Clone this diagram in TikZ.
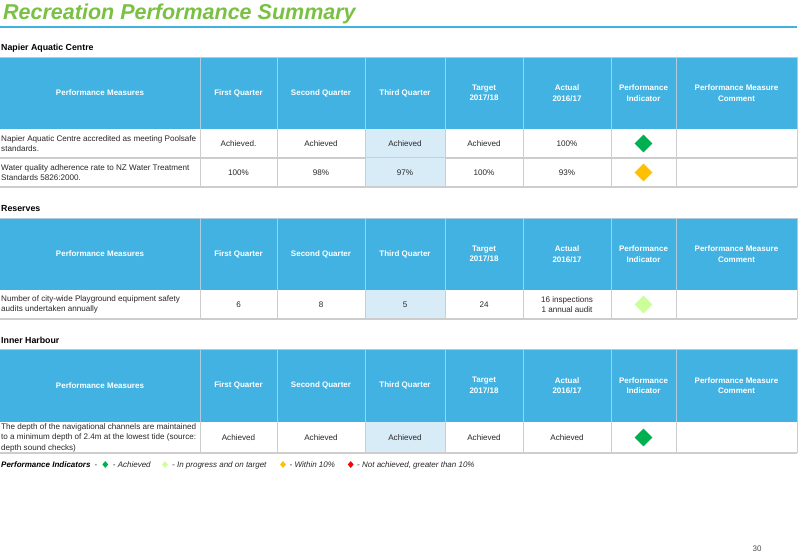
\documentclass[tikz,border=0pt]{standalone}
\usepackage{fontspec}
\setmainfont{Liberation Sans}
\usetikzlibrary{shapes.geometric}
\definecolor{hdrblue}{RGB}{65,178,225}
\definecolor{hdrsepc}{RGB}{175,205,220}
\definecolor{q3blue}{RGB}{216,236,248}
\definecolor{gridgray}{RGB}{205,205,205}
\definecolor{titlegreen}{RGB}{122,193,67}
\definecolor{indgreen}{RGB}{0,176,80}
\definecolor{indlight}{RGB}{204,255,153}
\definecolor{indyellow}{RGB}{255,192,0}
\definecolor{indred}{RGB}{255,0,0}
\definecolor{bodytext}{RGB}{40,40,40}
\tikzset{
  hdrtext/.style={text=white, font=\bfseries\fontsize{8}{10.5}\selectfont, align=center, inner sep=0pt},
  celltext/.style={text=bodytext, font=\fontsize{8.1}{10.5}\selectfont, align=center, inner sep=0pt},
  measuretext/.style={text=bodytext, font=\fontsize{8.1}{10.5}\selectfont, align=left, anchor=west, inner sep=0pt},
  sectionlbl/.style={font=\bfseries\fontsize{8.8}{10}\selectfont, anchor=west, inner sep=0pt},
  ind/.style={diamond, minimum width=18pt, minimum height=18pt, inner sep=0pt},
  legind/.style={diamond, minimum width=6pt, minimum height=7pt, inner sep=0pt},
  legtext/.style={text=bodytext, font=\itshape\fontsize{8}{9}\selectfont, anchor=base west, inner sep=0pt},
  rowline/.style={draw=gridgray, line width=1.6pt},
  colline/.style={draw=gridgray, line width=0.9pt},
  hdrsep/.style={draw=hdrsepc, line width=0.9pt},
}
\newcommand\mkheader[3]{%
  \fill[hdrblue] (0,#1) rectangle (797,#2);
  \draw[hdrsep] (0,#1) -- (797,#1) -- (797,#2);
  \foreach \xx in {200,277,365,445,523,611,676} {\draw[hdrsep] (\xx,#1) -- (\xx,#2);}
  \pgfmathsetmacro\hmid{(#1+#2)/2}
  \node[hdrtext] (#3a) at (100,\hmid) {Performance Measures};
  \node[hdrtext] (#3b) at (238.5,\hmid) {First Quarter};
  \node[hdrtext] (#3c) at (321,\hmid) {Second Quarter};
  \node[hdrtext] (#3d) at (405,\hmid) {Third Quarter};
  \node[hdrtext] (#3e) at (484,\hmid) {Target\\2017/18};
  \node[hdrtext] (#3f) at (567,\hmid) {Actual\\2016/17};
  \node[hdrtext] (#3g) at (643.5,\hmid) {Performance\\Indicator};
  \node[hdrtext] (#3h) at (736.5,\hmid) {Performance Measure\\Comment};
}
\newcommand\mkrow[2]{%
  \fill[q3blue] (365,#1) rectangle (445,#2);
  \foreach \xx in {200,277,365,445,523,611,676,797} {\draw[colline] (\xx,#1) -- (\xx,#2);}
  \draw[rowline] (0,#2) -- (797,#2);
}
\begin{document}
\begin{tikzpicture}[x=1pt,y=-1pt]
\useasboundingbox[fill=white] (0,0) rectangle (810,558);
% title
\node[anchor=base west, inner sep=0pt, text=titlegreen, font=\bfseries\itshape\fontsize{21.5}{24}\selectfont] (title) at (3,19) {Recreation Performance Summary};
\draw[hdrblue, line width=2.4pt] (0,26.8) -- (797,26.8);

% ---------- Napier Aquatic Centre
\node[sectionlbl] (s1) at (1,48) {Napier Aquatic Centre};
\mkheader{57}{129}{ta}
\mkrow{129}{158}
\mkrow{158}{187}
\node[measuretext] (t1r1a) at (1,143.5) {Napier Aquatic Centre accredited as meeting Poolsafe\\standards.};
\node[celltext] (t1r1b) at (238.5,143.5) {Achieved.};
\node[celltext] (t1r1c) at (321,143.5) {Achieved};
\node[celltext] (t1r1d) at (405,143.5) {Achieved};
\node[celltext] (t1r1e) at (484,143.5) {Achieved};
\node[celltext] (t1r1f) at (567,143.5) {100\%};
\node[ind, fill=indgreen] (t1r1g) at (643.5,143.5) {};
\node[measuretext] (t1r2a) at (1,172.5) {Water quality adherence rate to NZ Water Treatment\\Standards 5826:2000.};
\node[celltext] (t1r2b) at (238.5,172.5) {100\%};
\node[celltext] (t1r2c) at (321,172.5) {98\%};
\node[celltext] (t1r2d) at (405,172.5) {97\%};
\node[celltext] (t1r2e) at (484,172.5) {100\%};
\node[celltext] (t1r2f) at (567,172.5) {93\%};
\node[ind, fill=indyellow] (t1r2g) at (643.5,172.5) {};

% ---------- Reserves
\node[sectionlbl] (s2) at (1,209) {Reserves};
\mkheader{218}{290}{tb}
\mkrow{290}{319}
\node[measuretext] (t2r1a) at (1,304.5) {Number of city-wide Playground equipment safety\\audits undertaken annually};
\node[celltext] (t2r1b) at (238.5,304.5) {6};
\node[celltext] (t2r1c) at (321,304.5) {8};
\node[celltext] (t2r1d) at (405,304.5) {5};
\node[celltext] (t2r1e) at (484,304.5) {24};
\node[celltext] (t2r1f) at (567,304.5) {16 inspections\\1 annual audit};
\node[ind, fill=indlight] (t2r1g) at (643.5,304.5) {};

% ---------- Inner Harbour
\node[sectionlbl] (s3) at (1,340) {Inner Harbour};
\mkheader{349}{422}{tc}
\mkrow{422}{453}
\node[measuretext] (t3r1a) at (1,437.5) {The depth of the navigational channels are maintained\\to a minimum depth of 2.4m at the lowest tide (source:\\depth sound checks)};
\node[celltext] (t3r1b) at (238.5,437.5) {Achieved};
\node[celltext] (t3r1c) at (321,437.5) {Achieved};
\node[celltext] (t3r1d) at (405,437.5) {Achieved};
\node[celltext] (t3r1e) at (484,437.5) {Achieved};
\node[celltext] (t3r1f) at (567,437.5) {Achieved};
\node[ind, fill=indgreen] (t3r1g) at (643.5,437.5) {};

% ---------- legend
\node[legtext, font=\bfseries\itshape\fontsize{8}{9}\selectfont, text=black] (lg0) at (1,467.3) {Performance Indicators};
\node[legtext, font=\fontsize{8}{9}\selectfont] (lgdash) at (94.5,467.3) {-};
\node[legind, fill=indgreen] (lg1d) at (105.3,464.5) {};
\node[legtext] (lg1) at (112.7,467.3) {- Achieved};
\node[legind, fill=indlight] (lg2d) at (165,464.5) {};
\node[legtext] (lg2) at (172,467.3) {- In progress and on target};
\node[legind, fill=indyellow] (lg3d) at (283,464.5) {};
\node[legtext] (lg3) at (289.5,467.3) {- Within 10\%};
\node[legind, fill=indred] (lg4d) at (350.7,464.5) {};
\node[legtext] (lg4) at (357,467.3) {- Not achieved, greater than 10\%};

% page number
\node[text=black!70, font=\fontsize{8}{9}\selectfont, inner sep=0pt] (pg) at (757,549) {30};
\end{tikzpicture}
\end{document}
